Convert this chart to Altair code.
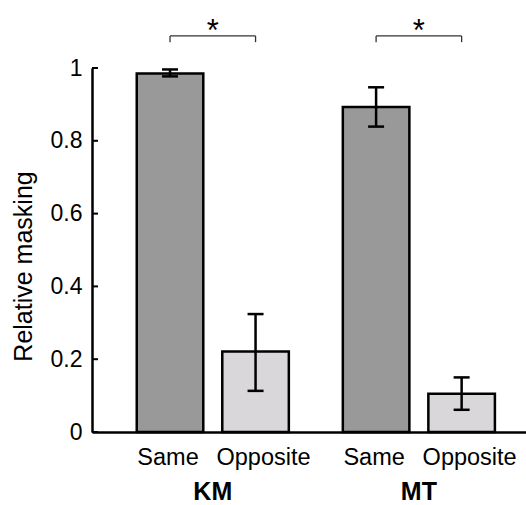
import altair as alt
import pandas as pd

# ---- data ----
subjects = ["KM", "KM", "MT", "MT"]
conditions = ["Same", "Opposite", "Same", "Opposite"]
means = [0.985, 0.221, 0.893, 0.105]
err_low = [0.977, 0.113, 0.839, 0.061]
err_high = [0.996, 0.324, 0.947, 0.150]

y_ticks = [0, 0.2, 0.4, 0.6, 0.8, 1]
group_names = ["KM", "MT"]
condition_names = ["Same", "Opposite"]
sig_subjects = ["KM", "MT"]
sig_text = ["*", "*"]

df = pd.DataFrame({
    "subject": subjects,
    "condition": conditions,
    "mean": means,
    "lo": err_low,
    "hi": err_high,
})
ticks_df = pd.DataFrame({"tick": y_ticks})
sig_df = pd.DataFrame({"subject": sig_subjects, "text": sig_text})
bracket_df = pd.DataFrame({
    "subject": [s for s in sig_subjects for _ in condition_names],
    "condition": [c for _ in sig_subjects for c in condition_names],
})
groups_df = pd.DataFrame({"subject": group_names})

W, H = 434, 364
FONT = "Liberation Sans"
BR_TOP, BR_BOT = 1.088, 1.071

xs = alt.Scale(domain=group_names, paddingInner=0.262, paddingOuter=0.184, align=0.59)
xo = alt.Scale(domain=condition_names, paddingInner=0.222, paddingOuter=0)
ys = alt.Scale(domain=[0, 1], nice=False, zero=True)

X = alt.X("subject:N", scale=xs,
          axis=alt.Axis(labels=False, ticks=False, title=None, domain=True,
                        domainColor="black", domainWidth=2.5, grid=False))
XO = alt.XOffset("condition:N", scale=xo)

bars = alt.Chart(df).mark_bar(stroke="black", strokeWidth=2.5).encode(
    x=X,
    xOffset=XO,
    y=alt.Y("mean:Q", scale=ys,
            axis=alt.Axis(values=y_ticks, format="~g", ticks=False, grid=False,
                          labelFont=FONT, labelFontSize=23, labelColor="black",
                          labelPadding=10, domainColor="black", domainWidth=2.5,
                          title="Relative masking", titleFont=FONT, titleFontSize=25,
                          titleFontWeight="normal", titleColor="black",
                          titleAngle=270, titleX=-69, titleY=198,
                          titleAlign="center", titleBaseline="middle")),
    fill=alt.Fill("condition:N",
                  scale=alt.Scale(domain=condition_names, range=["#999999", "#d9d7d9"]),
                  legend=None),
)

inner_ticks = alt.Chart(ticks_df).mark_rule(color="black", strokeWidth=2).encode(
    y=alt.Y("tick:Q", scale=ys),
    x=alt.value(0),
    x2=alt.value(6),
)

err_rule = alt.Chart(df).mark_rule(color="black", strokeWidth=2.5).encode(
    x=X, xOffset=XO,
    y=alt.Y("lo:Q", scale=ys),
    y2="hi:Q",
)

caps = alt.Chart(df).transform_fold(["lo", "hi"], as_=["which", "val"]).mark_tick(
    color="black", thickness=2.5, size=16, opacity=1
).encode(
    x=X, xOffset=XO,
    y=alt.Y("val:Q", scale=ys),
)

legs = alt.Chart(bracket_df).mark_rule(color="#333333", strokeWidth=1.3).encode(
    x=X, xOffset=XO,
    y=alt.Y(datum=BR_BOT, scale=ys),
    y2=alt.datum(BR_TOP),
)

hline = alt.Chart(bracket_df).mark_line(color="#333333", strokeWidth=1.3).encode(
    x=X, xOffset=XO,
    y=alt.Y(datum=BR_TOP, scale=ys),
    detail="subject:N",
)

stars = alt.Chart(sig_df).mark_text(font=FONT, fontSize=31, color="black",
                                    baseline="alphabetic", dy=5).encode(
    x=X,
    y=alt.Y(datum=BR_TOP, scale=ys),
    text="text:N",
)

same_labels = alt.Chart(bracket_df).transform_filter(
    alt.datum.condition == "Same"
).mark_text(font=FONT, fontSize=23.5, color="black", baseline="alphabetic", dx=-2).encode(
    x=X, xOffset=XO,
    y=alt.value(H + 33),
    text="condition:N",
)

opp_labels = alt.Chart(bracket_df).transform_filter(
    alt.datum.condition == "Opposite"
).mark_text(font=FONT, fontSize=23.5, color="black", baseline="alphabetic", dx=8).encode(
    x=X, xOffset=XO,
    y=alt.value(H + 33),
    text="condition:N",
)

group_labels = alt.Chart(groups_df).mark_text(font=FONT, fontSize=25, fontWeight="bold",
                                              color="black", baseline="alphabetic").encode(
    x=X,
    y=alt.value(H + 68),
    text="subject:N",
)

chart = alt.layer(
    bars, err_rule, caps, inner_ticks, legs, hline, stars,
    same_labels, opp_labels, group_labels
).properties(
    width=W, height=H,
    padding={"left": 92, "top": 68, "right": 0, "bottom": 73},
    autosize=alt.AutoSizeParams(type="none"),
    background="white",
).configure_view(stroke=None)

chart.save("out.html", embed_options={"renderer": "svg", "actions": False})
